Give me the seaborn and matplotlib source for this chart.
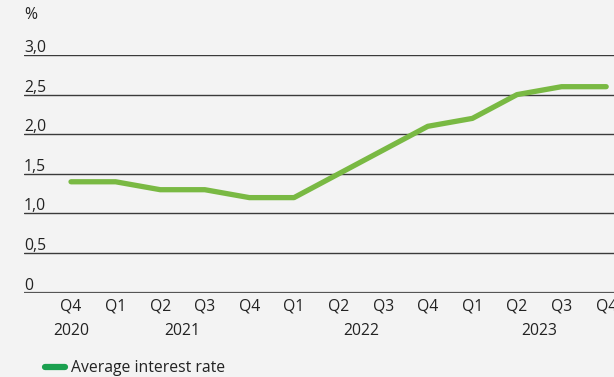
import matplotlib
matplotlib.use("Agg")
import matplotlib.pyplot as plt
import matplotlib.transforms as mtransforms
from matplotlib.lines import Line2D
import seaborn as sns
import pandas as pd

quarters = ["Q4", "Q1", "Q2", "Q3", "Q4", "Q1", "Q2", "Q3", "Q4", "Q1", "Q2", "Q3", "Q4"]
rates = [1.4, 1.4, 1.3, 1.3, 1.2, 1.2, 1.5, 1.8, 2.1, 2.2, 2.5, 2.6, 2.6]
years = ["2020", "2021", "2022", "2023"]
year_pos = [0, 2.5, 6.5, 10.5]
yticks = [0, 0.5, 1.0, 1.5, 2.0, 2.5, 3.0]
ytick_labels = ["0", "0,5", "1,0", "1,5", "2,0", "2,5", "3,0"]
series_name = "Average interest rate"

df = pd.DataFrame({"idx": range(len(rates)), "rate": rates})

sns.set_theme(style="white")
plt.rcParams["font.family"] = ["Open Sans", "DejaVu Sans"]

FS = 11.3
TXT = "#222222"
BG = "#f3f3f3"
fig = plt.figure(figsize=(6.14, 3.77), dpi=100, facecolor=BG)
ax = fig.add_axes([24 / 614, 1 - 292.7 / 377, 590 / 614, (292.7 - 55) / 377])
ax.set_facecolor(BG)

sns.lineplot(data=df, x="idx", y="rate", ax=ax, color="#79b943", linewidth=3.8,
             solid_capstyle="round", solid_joinstyle="round", legend=False, zorder=3)
for l in ax.lines:
    l.set_clip_on(False)

ax.set_xlim(-1.054, 12.175)
ax.set_ylim(0, 3.0)

for v in yticks[1:]:
    ax.axhline(v, color="#3a3a3a", linewidth=1.0, zorder=1)
ax.axhline(0, color="#555555", linewidth=1.6, zorder=2)

for s in ax.spines.values():
    s.set_visible(False)

ax.set_yticks([])
ytrans = ax.get_yaxis_transform() + mtransforms.ScaledTranslation(0, 3 / 100, fig.dpi_scale_trans)
for v, lab in zip(yticks, ytick_labels):
    ax.text(0, v, lab, transform=ytrans, ha="left", va="baseline", fontsize=FS, color=TXT)

ax.set_xticks(range(len(quarters)))
ax.set_xticklabels(quarters, fontsize=FS, color=TXT)
ax.tick_params(axis="x", length=0, pad=4.5)
ax.set_xlabel("")
ax.set_ylabel("")

xtrans = ax.get_xaxis_transform()
for p, y in zip(year_pos, years):
    ax.text(p, -0.163, y, transform=xtrans, ha="center", va="center", fontsize=FS, color=TXT)

fig.text(24 / 614, 1 - 15 / 377, "%", ha="left", va="center", fontsize=FS, color=TXT)

handle = Line2D([], [], color="#1ba04f", linewidth=4.5, solid_capstyle="round")
leg = fig.legend([handle], [series_name], loc="center left", bbox_to_anchor=(45 / 614, 1 - 368 / 377),
                 frameon=False, fontsize=FS, handlelength=1.3, handletextpad=0.35,
                 borderpad=0, borderaxespad=0)
for t in leg.get_texts():
    t.set_color(TXT)

fig.savefig("out.png", dpi=100, facecolor=BG)
